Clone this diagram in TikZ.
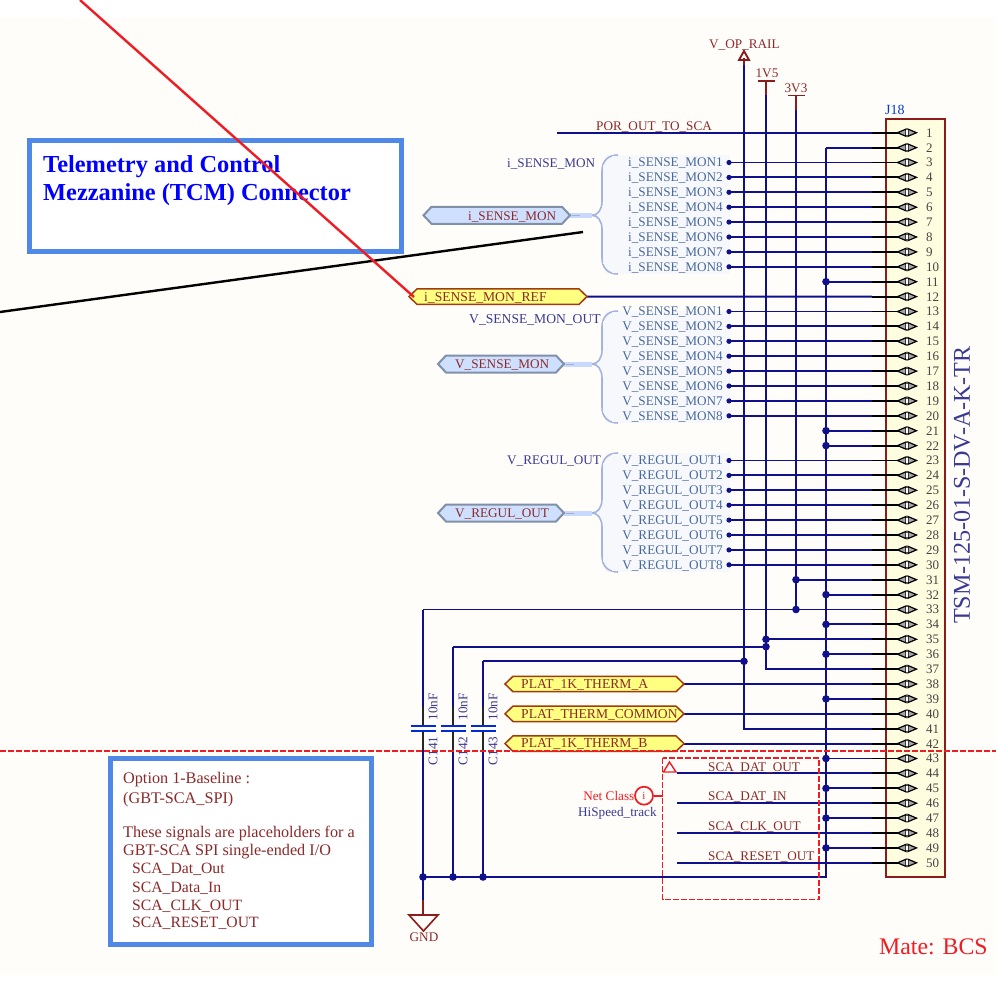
\documentclass[tikz,border=0pt]{standalone}
\usepackage{fontspec}
\setmainfont{Liberation Serif}
\definecolor{wirec}{HTML}{10108C}
\definecolor{netc}{HTML}{3A3A94}
\definecolor{entryc}{HTML}{4A6A9C}
\definecolor{portc}{HTML}{8C2A2A}
\definecolor{pwrc}{HTML}{8C1C1C}
\definecolor{boxc}{HTML}{5088E8}
\definecolor{paper}{HTML}{FFFDF9}
\definecolor{bracec}{HTML}{A4B4DC}
\definecolor{hfill}{HTML}{F6F8FC}
\definecolor{stubc}{HTML}{C8D8FF}
\definecolor{redc}{HTML}{F01C24}
\definecolor{pinc}{HTML}{444444}
\definecolor{bportf}{HTML}{CFE0FF}
\definecolor{bportd}{HTML}{8090A8}
\definecolor{yportf}{HTML}{FFFF80}
\definecolor{yportd}{HTML}{A03A10}
\newcommand{\nf}{\fontsize{13.2}{15}\selectfont}
\newcommand{\yf}{\fontsize{13.6}{15}\selectfont}
\tikzset{
  wire/.style={draw=wirec,line width=1.95pt},
  txt/.style={inner sep=0pt,font=\nf,anchor=base west},
  txty/.style={inner sep=0pt,font=\yf,anchor=base west},
  txtr/.style={inner sep=0pt,font=\nf,anchor=base east},
  txtc/.style={inner sep=0pt,font=\nf,anchor=center},
  rot/.style={inner sep=0pt,font=\nf,rotate=90,anchor=center,text=netc},
  cbox/.style={draw=boxc,line width=5pt,fill=white},
  blueport/.style={draw=bportd,line width=2pt,fill=bportf},
  yellowport/.style={draw=yportd,line width=1.5pt,fill=yportf},
  pwr/.style={draw=pwrc,line width=1.9pt},
  capplate/.style={draw=blue!80!cyan!85!black,line width=2pt},
  capwire/.style={draw=black!85,line width=1.9pt},
  rdash/.style={draw=redc,line width=1.9pt,dash pattern=on 6pt off 2pt},
}
% left x, right x, y centre, half height, style
\newcommand{\portpath}[5]{\path[#5] (#1,#3) -- (#1+8,#3-#4) -- (#2-8,#3-#4) -- (#2,#3) -- (#2-8,#3+#4) -- (#1+8,#3+#4) -- cycle;}
% top y, mid y, bottom y
\newcommand{\harness}[3]{%
  \fill[hfill] (605,#1) rectangle (730,#3);
  \draw[bracec,line width=1.6pt,fill=hfill] (618,#1) .. controls (608,#1) and (602,#1+6) .. (602,#1+16) -- (602,#2-14) .. controls (602,#2-6) and (598,#2) .. (592,#2) .. controls (598,#2) and (602,#2+6) .. (602,#2+14) -- (602,#3-16) .. controls (602,#3-6) and (608,#3) .. (618,#3);
  \fill[hfill] (603,#1+10) rectangle (730,#3-10);
  \fill[hfill] (612,#1+0.8) rectangle (730,#3-0.8);
}
\newcommand{\stub}[2]{%
  \draw[stubc,line width=5pt] (#1,#2) -- (592,#2);
  \draw[bportd!70,line width=0.6pt] (#1+2,#2) -- (#1+10,#2);
}
\newcommand{\jn}[1]{\fill[wirec] (#1) circle (3.8pt);}
\begin{document}
\begin{tikzpicture}[x=1pt,y=-1pt]
\useasboundingbox (0,0) rectangle (996,993);
\fill[white] (0,0) rectangle (996,993);
\fill[paper] (0,18) rectangle (996,974.5);

% harness fields
\harness{155}{215.3}{274}
\harness{311}{364}{423}
\harness{453}{513}{572}
\stub{570}{215.3}
\stub{564}{364}
\stub{564}{513}

% connector body
\node[draw=pwrc,line width=2pt,fill=yellow!12!white,minimum width=59.5pt,minimum height=758pt,inner sep=0pt,anchor=north west] (J) at (884.7,117.5) {};
\node[txt,text=blue!70!cyan!80!black,font=\fontsize{14}{15}\selectfont] (Jname) at (885,114) {J18};
\node[inner sep=0pt,rotate=90,anchor=center,text=netc,font=\fontsize{24.1}{26}\selectfont] (Jtype) at (962,485) {TSM-125-01-S-DV-A-K-TR};

% pin anchors
\foreach \n in {1,...,50}{
  \pgfmathsetmacro\py{132.7+(\n-1)*14.9}
  \coordinate (p\n) at (872,\py);
  \coordinate (s\n) at (900,\py);
}
\coordinate (r0) at (744,0);
\coordinate (r1) at (766,0);
\coordinate (r3) at (796,0);
\coordinate (gb) at (826,0);
\coordinate (ent) at (729,0);
\coordinate (net) at (677,0);
\coordinate (plat) at (684,0);

% text boxes and free lines below the wires
\node[cbox,minimum width=372.5pt,minimum height=111pt,inner sep=0pt,anchor=north west] (tbox) at (26.5,138) {};
\node[inner sep=0pt,anchor=base west,text=blue,font=\fontsize{24.4}{26}\selectfont\bfseries] (t1) at (43,172.5) {Telemetry and Control};
\node[inner sep=0pt,anchor=base west,text=blue,font=\fontsize{24.4}{26}\selectfont\bfseries] (t2) at (43,200.5) {Mezzanine (TCM) Connector};

\node[cbox,minimum width=261pt,minimum height=186pt,inner sep=0pt,anchor=north west] (obox) at (108,756) {};
\foreach \tname/\tx/\ty/\tsz/\tt in {o1/123/783.5/16.2/{Option 1-Baseline :},o2/123/803/16.2/{(GBT-SCA\_SPI)},o3/123/837.5/16.2/{These signals are placeholders for a},o4/123/855.5/16.2/{GBT-SCA SPI single-ended I/O},o5/132/873/15.7/{SCA\_Dat\_Out},o6/132/892/15.7/{SCA\_Data\_In},o7/132/910/15.7/{SCA\_CLK\_OUT},o8/132/927/15.7/{SCA\_RESET\_OUT}}{
  \node[inner sep=0pt,anchor=base west,text=portc,font=\fontsize{\tsz}{17}\selectfont] (\tname) at (\tx,\ty) {\tt};
}

% rails
\draw[wire] (744,65) -- (r0 |- p41) -- (p41);
\draw[wire] (766,95) -- (r1 |- p37) -- (p37);
\draw[wire] (796,110) -- (r3 |- p33);
\draw[wire] (gb |- p2) -- (826,877) -- (423,877);
\draw[wire] (gb |- p2) -- (p2);

% wires to pins
\coordinate (por) at (557,0);
\draw[wire] (por |- p1) -- (p1);
\foreach \n in {3,...,10,13,14,15,16,17,18,19,20,23,24,25,26,27,28,29,30}{
  \draw[wire] (ent |- p\n) -- (p\n);
  \fill[wirec] (ent |- p\n) circle (2.6pt);
}
\foreach \n in {11,21,22,32,34,36,39,43,45,47,49}{
  \draw[wire] (gb |- p\n) -- (p\n);
  \jn{gb |- p\n}
}
\draw[wire] (r3 |- p31) -- (p31); \jn{r3 |- p31}
\coordinate (c1) at (423,0);
\coordinate (c2) at (453,0);
\coordinate (c3) at (483,0);
\draw[wire] (c1 |- p33) -- (p33); \jn{r3 |- p33}
\draw[wire] (r1 |- p35) -- (p35); \jn{r1 |- p35}
\coordinate (n2) at (0,646.7);
\coordinate (n3) at (0,661.3);
\draw[wire] (c2 |- n2) -- (r1 |- n2); \jn{r1 |- n2}
\draw[wire] (c3 |- n3) -- (r0 |- n3); \jn{r0 |- n3}
\foreach \n in {38,40,42}{ \draw[wire] (plat |- p\n) -- (p\n); }
\foreach \n in {44,46,48,50}{ \draw[wire] (net |- p\n) -- (p\n); }
\draw[wire] (587,296.6) -- (p12);

% capacitors
\foreach \cc/\ct/\cn in {423/609.5/141,453/646.7/142,483/661.3/143}{
  \draw[wire] (\cc,\ct) -- (\cc,707);
  \draw[capwire] (\cc,707) -- (\cc,725.7);
  \draw[capwire] (\cc,731.3) -- (\cc,750);
  \draw[wire] (\cc,750) -- (\cc,877);
  \draw[capplate] (\cc-12.5,725.7) -- (\cc+12.5,725.7);
  \draw[capplate] (\cc-12.5,731.3) -- (\cc+12.5,731.3);
  \node[rot] (cv\cn) at (\cc+10,707) {10nF};
  \node[rot] (cn\cn) at (\cc+10,751) {C\cn};
  \fill[wirec] (\cc,877) circle (3.8pt);
}

% GND
\draw[wire] (423,877) -- (423,900);
\draw[pwr,line width=1.6pt] (423,900) -- (423,915);
\draw[pwr,line width=1.6pt] (409,915) -- (438,915) -- (423.5,931) -- cycle;
\node[txtc,text=portc] (gnd) at (424,937) {GND};

% pin symbols
\foreach \n in {1,...,50}{
  \pgfmathsetmacro\py{132.7+(\n-1)*14.9}
  \draw[black,line width=1.9pt] (p\n) -- (s\n);
  \draw[black,line width=1.2pt,fill=black!35] (897.5,\py) -- (906,\py-3.6) -- (906,\py+3.6) -- cycle;
  \draw[black,line width=1.2pt,fill=black!35] (916.5,\py) -- (908,\py-3.6) -- (908,\py+3.6) -- cycle;
  \fill[white] (906.4,\py-2.4) rectangle (907.6,\py+2.4);
  \node[inner sep=0pt,anchor=base west,text=pinc,font=\fontsize{13}{14}\selectfont] (num\n) at (926,\py+4.4) {\n};
}

% power ports
\draw[wire,draw=pwrc] (744,58) -- (744,65);
\draw[pwr] (744,51) -- (749,60) -- (739,60) -- cycle;
\node[txt,text=portc] (vop) at (709,48.5) {V\_OP\_RAIL};
\draw[pwr] (758,81) -- (775,81);
\draw[pwr] (766,81) -- (766,95);
\node[txtc,text=portc] (v15) at (767,73.5) {1V5};
\draw[pwr] (788,95.5) -- (805,95.5);
\draw[pwr] (796,95.5) -- (796,110);
\node[txtc,text=portc] (v33) at (796,88.5) {3V3};

% harness text
\foreach \i in {1,...,8}{
  \pgfmathsetmacro\ya{132.7+(\i+1)*14.9+4.4}
  \pgfmathsetmacro\yb{132.7+(\i+11)*14.9+4.4}
  \pgfmathsetmacro\yc{132.7+(\i+21)*14.9+4.4}
  \node[txtr,text=entryc] (ia\i) at (723,\ya) {i\_SENSE\_MON\i};
  \node[txtr,text=entryc] (ib\i) at (723,\yb) {V\_SENSE\_MON\i};
  \node[txtr,text=entryc] (ic\i) at (723,\yc) {V\_REGUL\_OUT\i};
}
\node[txt,text=netc] (nl1) at (507,167.2) {i\_SENSE\_MON};
\node[txt,text=netc,font=\yf] (nl2) at (469,323.7) {V\_SENSE\_MON\_OUT};
\node[txt,text=netc] (nl3) at (507,464.5) {V\_REGUL\_OUT};

% ports
\portpath{423.5}{570}{215.3}{8.5}{blueport}
\portpath{438}{564}{364}{8.5}{blueport}
\portpath{438}{564}{513}{8.5}{blueport}
\node[txt,text=portc] (pa) at (468,220) {i\_SENSE\_MON};
\node[txt,text=portc] (pb) at (455,368.5) {V\_SENSE\_MON};
\node[txt,text=portc] (pc) at (455,517.5) {V\_REGUL\_OUT};
\portpath{409}{587}{296.6}{7.7}{yellowport}
\portpath{505}{684}{684}{7.7}{yellowport}
\portpath{505}{684}{713.8}{7.7}{yellowport}
\portpath{505}{684}{743.6}{7.7}{yellowport}
\node[txty,text=portc] (yr) at (424,301) {i\_SENSE\_MON\_REF};
\node[txty,text=portc] (y1) at (521,688.5) {PLAT\_1K\_THERM\_A};
\node[txty,text=portc] (y2) at (521,718) {PLAT\_THERM\_COMMON};
\node[txty,text=portc] (y3) at (521,747.5) {PLAT\_1K\_THERM\_B};

% wire labels
\node[txt,text=portc] (lp) at (596,130.5) {POR\_OUT\_TO\_SCA};
\node[txt,text=portc] (l1) at (708,771) {SCA\_DAT\_OUT};
\node[txt,text=portc] (l2) at (708,800.5) {SCA\_DAT\_IN};
\node[txt,text=portc] (l3) at (708,830) {SCA\_CLK\_OUT};
\node[txt,text=portc] (l4) at (708,860.5) {SCA\_RESET\_OUT};

% directive box
\draw[rdash] (662.5,758) rectangle (819,899.5);
\draw[redc,line width=1.4pt] (669.5,762) -- (676,772) -- (663.5,772) -- cycle;
\node[draw=redc,circle,line width=1.7pt,minimum size=18pt,inner sep=0pt,text=redc,font=\fontsize{11}{12}\selectfont] (ci) at (644,795.7) {i};
\draw[redc,line width=1.6pt] (ci.east) -- (662.5,795.7);
\node[txtr,text=redc] (nc) at (634.5,800) {Net Class};
\node[txt,text=netc] (hs) at (578,816) {HiSpeed\_track};

% overlays
\draw[rdash] (0,751) -- (996,751);
\draw[black,line width=2.4pt] (0,312) -- (583,232);
\draw[redc,line width=2.4pt] (80,0) -- (414,297);
\node[inner sep=0pt,anchor=base west,text=redc,font=\fontsize{23.8}{25}\selectfont] (mate) at (879,954) {Mate: BCS};
\end{tikzpicture}
\end{document}
